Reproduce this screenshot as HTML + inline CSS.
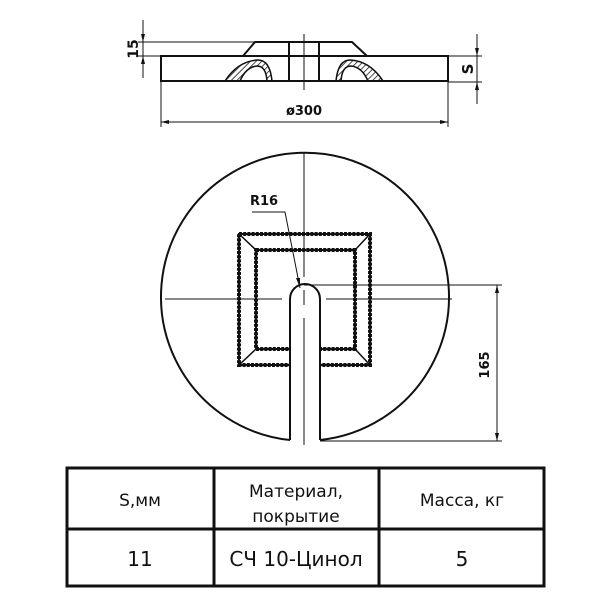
<!DOCTYPE html>
<html><head><meta charset="utf-8"><style>
html,body{margin:0;padding:0;background:#fff}
svg{display:block}
text{font-family:"DejaVu Sans","Liberation Sans",sans-serif;fill:#111}
</style></head><body>
<svg width="600" height="600" viewBox="0 0 600 600" xmlns="http://www.w3.org/2000/svg">
<defs>
<pattern id="h" width="4" height="4" patternUnits="userSpaceOnUse" patternTransform="rotate(45)">
<line x1="0" y1="0" x2="0" y2="4" stroke="#111" stroke-width="1.5"/></pattern>
</defs>
<g stroke="#111" fill="none">
<rect x="161" y="56" width="287" height="25" stroke-width="2"/>
<polyline points="243,56 255,42 352,42 367,56" stroke-width="2"/>
<line x1="289" y1="42" x2="289" y2="81" stroke-width="2"/>
<line x1="319" y1="42" x2="319" y2="81" stroke-width="2"/>
<line x1="304" y1="34" x2="304" y2="90" stroke-width="1"/>
<path d="M225,81 Q238,61 258,60 Q270,60 272,81 L267,81 Q266,66 257,66 Q246,67 240,81 Z" fill="url(#h)" stroke-width="1.5"/>
<path d="M383,81 Q370,61 350,60 Q338,60 336,81 L341,81 Q342,66 351,66 Q362,67 368,81 Z" fill="url(#h)" stroke-width="1.5"/>
<line x1="143" y1="20" x2="143" y2="78" stroke-width="1"/>
<line x1="138" y1="42" x2="255" y2="42" stroke-width="1"/>
<line x1="138" y1="56" x2="161" y2="56" stroke-width="1"/>
<line x1="477" y1="34" x2="477" y2="104" stroke-width="1"/>
<line x1="448" y1="56" x2="482" y2="56" stroke-width="1"/>
<line x1="448" y1="82" x2="482" y2="82" stroke-width="1"/>
<line x1="161" y1="81" x2="161" y2="127" stroke-width="1"/>
<line x1="448" y1="81" x2="448" y2="127" stroke-width="1"/>
<line x1="161" y1="122" x2="448" y2="122" stroke-width="1"/>
</g>
<g fill="#111">
<polygon points="143,42 141,34 145,34"/><polygon points="143,56 141,64 145,64"/>
<polygon points="477,56 475,48 479,48"/><polygon points="477,82 475,90 479,90"/>
<polygon points="161,122 169,120 169,124"/><polygon points="448,122 440,120 440,124"/>
</g>
<text x="134" y="53" font-size="14" font-weight="bold" transform="rotate(-90 134 49)" text-anchor="middle">15</text>
<text x="468" y="74" font-size="15" font-weight="bold" transform="rotate(-90 468 69)" text-anchor="middle">S</text>
<text x="304" y="115" font-size="13" font-weight="bold" text-anchor="middle">ø300</text>
<g stroke="#111" fill="none">
<path d="M290,440 A144,144 0 1 1 320,440" stroke-width="2"/>
<rect x="239" y="234" width="131" height="131" stroke-width="2"/>
<rect x="239" y="234" width="131" height="131" stroke-width="4" stroke-dasharray="3 1.2"/>
<rect x="256" y="250" width="99" height="99" stroke-width="2"/>
<rect x="256" y="250" width="99" height="99" stroke-width="4" stroke-dasharray="3 1.2"/>
<line x1="239" y1="234" x2="256" y2="250" stroke-width="1.5"/>
<line x1="370" y1="234" x2="355" y2="250" stroke-width="1.5"/>
<line x1="239" y1="365" x2="256" y2="349" stroke-width="1.5"/>
<line x1="370" y1="365" x2="355" y2="349" stroke-width="1.5"/>
<rect x="291" y="285" width="28" height="160" fill="#fff" stroke="none"/>
<path d="M290,440 L290,299 A15,15 0 0 1 320,299 L320,440" stroke-width="2"/>
<line x1="304" y1="152" x2="304" y2="277" stroke-width="1"/>
<line x1="304" y1="290" x2="304" y2="305" stroke-width="1"/>
<line x1="304" y1="318" x2="304" y2="445" stroke-width="1"/>
<line x1="165" y1="299" x2="282" y2="299" stroke-width="1"/>
<line x1="326" y1="299" x2="452" y2="299" stroke-width="1"/>
<line x1="304" y1="285" x2="502" y2="285" stroke-width="1"/>
<line x1="320" y1="441" x2="502" y2="441" stroke-width="1"/>
<line x1="497" y1="285" x2="497" y2="441" stroke-width="1"/>
<polyline points="252,212 285,212 300,288" stroke-width="1"/>
</g>
<g fill="#111">
<polygon points="497,285 495,293 499,293"/><polygon points="497,441 495,433 499,433"/>
<polygon points="300,288 296,278 300,278"/>
</g>
<text x="264" y="205" font-size="13" font-weight="bold" text-anchor="middle">R16</text>
<text x="484" y="370" font-size="13" font-weight="bold" text-anchor="middle" transform="rotate(-90 484 365)">165</text>
<g stroke="#111" stroke-width="3" fill="none">
<rect x="67" y="468" width="477" height="118"/>
<line x1="67" y1="529" x2="544" y2="529"/>
<line x1="214" y1="468" x2="214" y2="586"/>
<line x1="379" y1="468" x2="379" y2="586"/>
</g>
<g font-size="17" text-anchor="middle">
<text x="140" y="506">S,мм</text>
<text x="296" y="497">Материал,</text>
<text x="296" y="522">покрытие</text>
<text x="462" y="506">Масса, кг</text>
<text x="140" y="566" font-size="20">11</text>
<text x="296" y="566" font-size="20">СЧ 10-Цинол</text>
<text x="462" y="566" font-size="20">5</text>
</g>
</svg>
</body></html>
